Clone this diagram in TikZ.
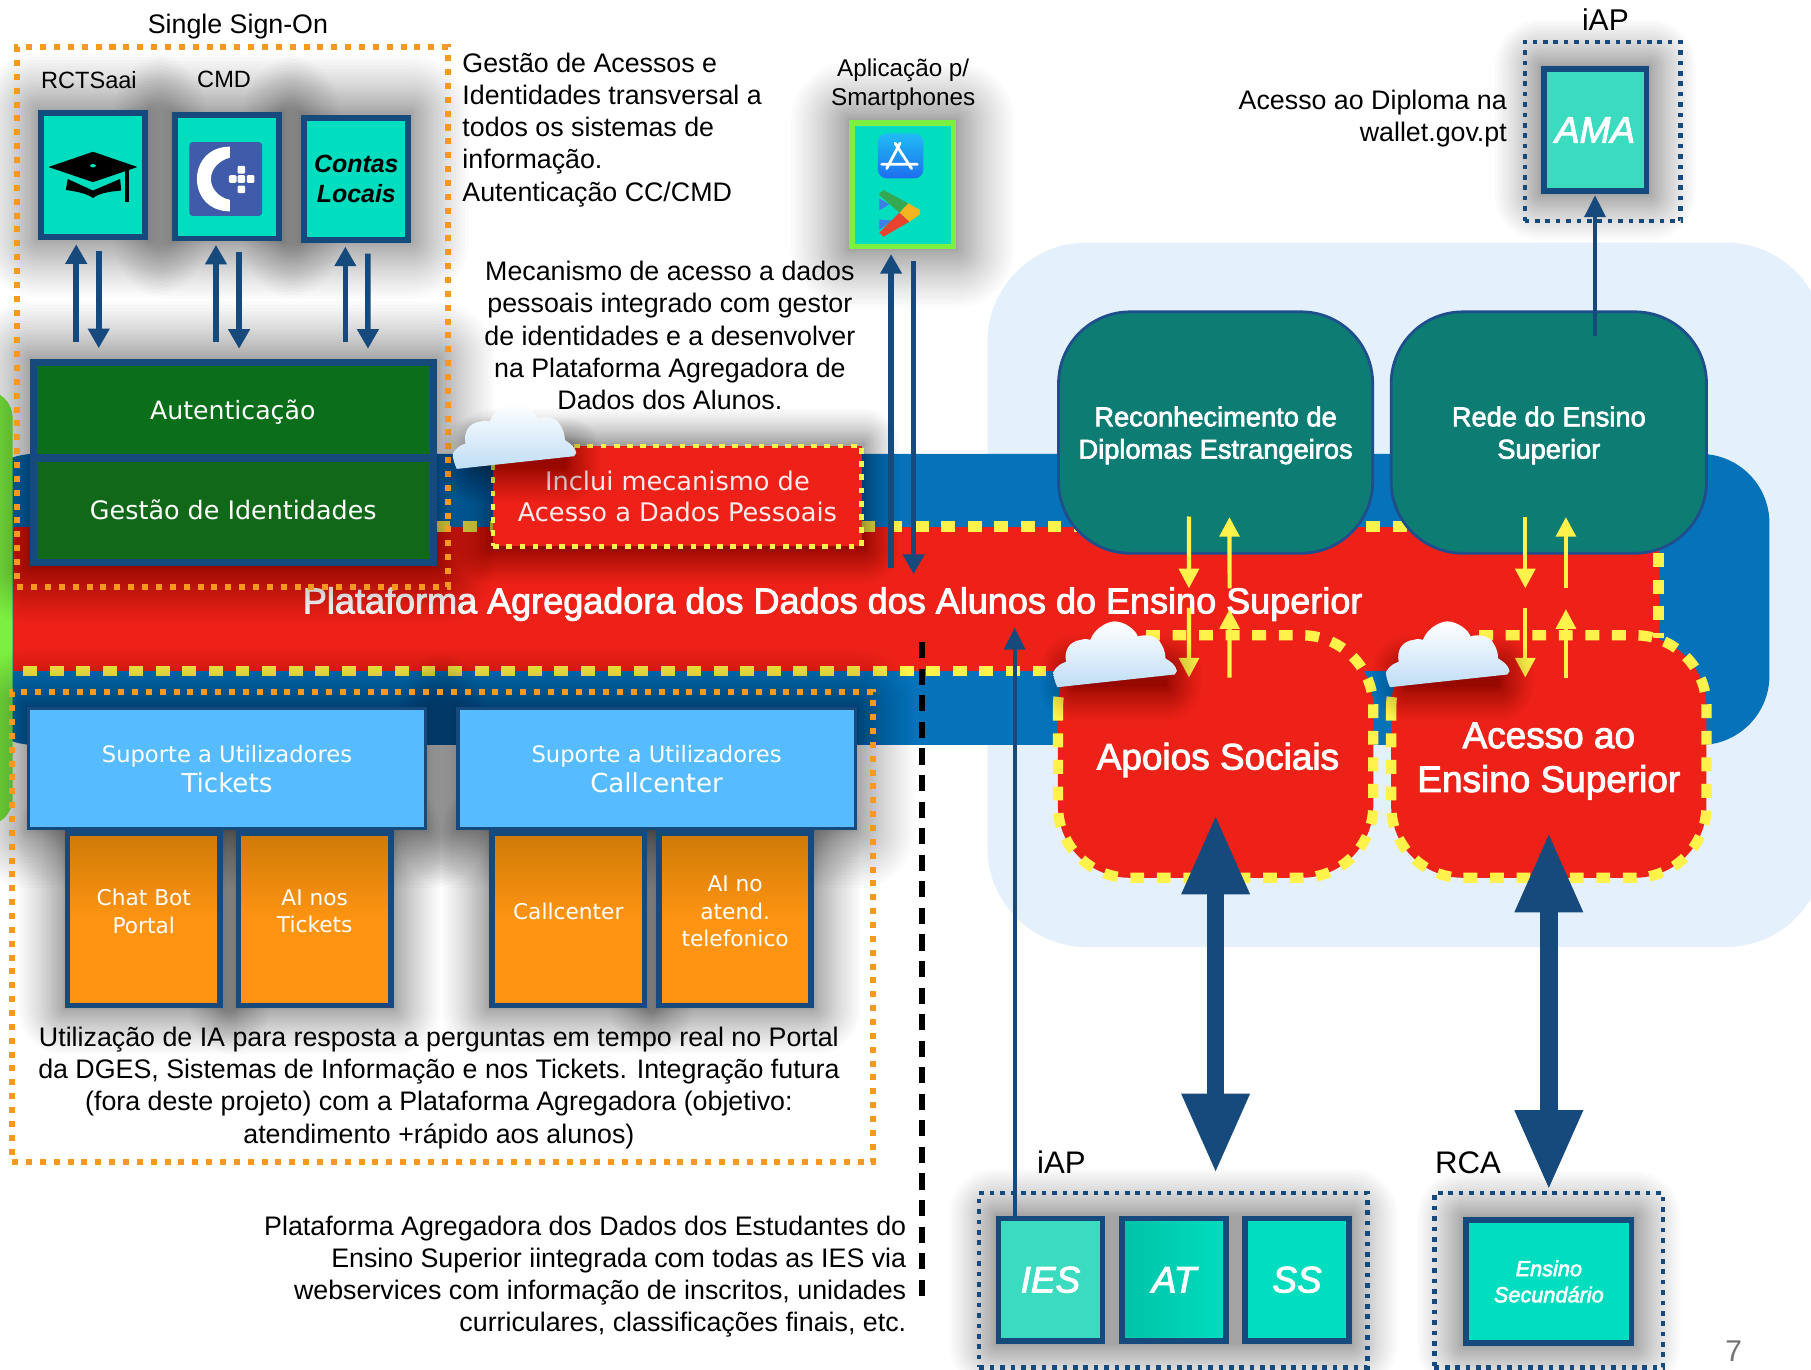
\documentclass[tikz,border=0pt]{standalone}
\usepackage{fontspec}
\usetikzlibrary{arrows.meta,shadings}
\setmainfont{Liberation Sans}
\newfontfamily\lucida{DejaVu Sans}
\newfontfamily\medf[FakeBold=2.5]{Liberation Sans}
\definecolor{navy}{HTML}{174A7C}
\definecolor{tealf}{HTML}{00DDBF}
\definecolor{iesf}{HTML}{3ADBBF}
\definecolor{paleb}{HTML}{E4F0FC}
\definecolor{bandb}{HTML}{0672BA}
\definecolor{redf}{HTML}{EE2118}
\definecolor{yel}{HTML}{FFF24A}
\definecolor{orng}{HTML}{F9981E}
\definecolor{orf}{HTML}{FF9412}
\definecolor{ordk}{HTML}{CF7A08}
\definecolor{skyf}{HTML}{56BCFF}
\definecolor{grn}{HTML}{0B6E1A}
\definecolor{grn2}{HTML}{116819}
\definecolor{lime}{HTML}{7CF040}
\definecolor{deep}{HTML}{0D7C72}
\definecolor{deepb}{HTML}{1F4E8C}
\definecolor{cmdb}{HTML}{3F5BA9}
\definecolor{cloudb}{HTML}{BFDDF5}
\definecolor{appt}{HTML}{20BCF5}
\definecolor{appb}{HTML}{1E6EF0}
\definecolor{pgreen}{HTML}{34A853}
\definecolor{pyellow}{HTML}{F4B51E}
\definecolor{pred}{HTML}{E8432E}
\definecolor{pblue}{HTML}{3E7CE8}
\newcommand{\softshadow}[5][4]{%
  \foreach \k in {1,...,25}{%
    \pgfmathsetmacro{\ss}{#1*10*(\k/25)^1.5}%
    \pgfmathsetmacro{\rr}{\ss*0.5}%
    \fill[black,opacity=.014,rounded corners=\rr pt] ({#2-\ss},{#3-\ss}) rectangle ({#4+\ss},{#5+\ss});
  }}
\newcommand{\cloudat}[2]{%
  \softshadow[3]{#1+18}{#2+42}{#1+98}{#2+56}
  \begin{scope}[shift={(#1,#2)}]
  \path[top color=white,bottom color=cloudb]
    (3.5,57) .. controls (1,52) and (0,47) .. (0,44) .. controls (3,38) and (8,36) .. (11,35)
    .. controls (9,25) and (14,17) .. (24,16) .. controls (27,15) and (30,15) .. (32,16)
    .. controls (36,5) and (48,0) .. (53,0) .. controls (62,0) and (72,8) .. (73,13)
    .. controls (80,11) and (90,12) .. (93,19) .. controls (97,25) and (97,30) .. (97,32)
    .. controls (102,35) and (106,38) .. (107,43) -- (105,46) -- cycle;
  \end{scope}}
\tikzset{
  sz/.style 2 args={minimum width=#1*0.5pt,minimum height=#2*0.5pt},
  txt/.style={inner sep=0pt,align=center,text=black,font=\fontsize{11.6}{13.9}\selectfont},
  small/.style={inner sep=0pt,align=center,text=black,font=\fontsize{10.2}{12.5}\selectfont},
  tealbox/.style={draw=navy,line width=2.5pt,fill=tealf,inner sep=0pt},
  greenbox/.style={draw=navy,line width=3pt,fill=grn,inner sep=0pt},
  greentext/.style={inner sep=0pt,text=white,font=\lucida\fontsize{10.9}{12}\selectfont},
  deepbox/.style={draw=deepb,line width=1.2pt,fill=deep,inner sep=0pt,rounded corners=31pt},
  deeptext/.style={inner sep=0pt,align=center,text=white,font=\medf\fontsize{11.8}{14}\selectfont},
  redshape/.style={fill=redf,inner sep=0pt,rounded corners=31pt},
  redtext/.style={inner sep=0pt,align=center,text=white,font=\medf\fontsize{16}{19}\selectfont},
  ydash/.style={draw=yel,line width=4.5pt,dash pattern=on 6pt off 5.5pt},
  ordash/.style={draw=orng,line width=2.6pt,dash pattern=on 2.6pt off 3.4pt},
  navydash/.style={draw=navy,line width=1.75pt,dash pattern=on 2pt off 2.5pt},
  skybox/.style={draw=navy,line width=1.5pt,fill=skyf,inner sep=0pt,align=center,text=white},
  orbox/.style={draw=navy,line width=2.5pt,top color=ordk,bottom color=orf,middle color=orf,inner sep=0pt},
  ortext/.style={inner sep=0pt,align=center,text=white,font=\lucida\fontsize{9.4}{12}\selectfont},
  navyarrow/.style={draw=navy,line width=2.4pt,-{Triangle[length=8.5pt,width=9pt]}},
  thinarrow/.style={draw=navy,line width=1.8pt,-{Triangle[length=9.5pt,width=9pt]}},
  yelarrow/.style={draw=yel,line width=1.8pt,-{Triangle[length=8.5pt,width=8.5pt]}},
  bigarrow/.style={draw=navy,line width=7.5pt,{Triangle[length=34.5pt,width=27.5pt]}-{Triangle[length=34.5pt,width=27.5pt]}},
  labelit/.style={inner sep=0pt,text=white,font=\medf\itshape\fontsize{16}{18}\selectfont},
}
\begin{document}
\begin{tikzpicture}[x=0.5pt,y=-0.5pt]
\clip (0,0) rectangle (1568,1186);
\fill[white] (0,0) rectangle (1568,1186);
% background panels
\node[fill=paleb,inner sep=0pt,rounded corners=43pt,sz={725}{610}] (panel) at (1217.5,515) {};
\node[fill=bandb,inner sep=0pt,rounded corners=30pt,sz={1562}{252}] (blueband) at (751,519) {};
\node[fill=lime,inner sep=0pt,rounded corners=12pt,sz={50}{377}] (blob) at (-14,526.5) {};
% red band
\node[fill=redf,inner sep=0pt,sz={1425}{125}] (band) at (723.5,518.5) {};
\draw[ydash] (378,456) -- (1436,456) -- (1436,552);
\draw[ydash] (20,581) -- (925,581);
\node[inner sep=0pt,text=white,font=\medf\fontsize{15.6}{18}\selectfont] (bandtitle) at (721,523) {Plataforma Agregadora dos Dados dos Alunos do Ensino Superior};
% SSO
\softshadow[5]{33}{96}{128}{207}
\softshadow[5]{149}{97}{244}{209}
\softshadow[5]{261}{98}{356}{209}
\softshadow[5]{26}{311}{378}{490}
\softshadow[5]{735}{104}{828}{216}
\node[txt,font=\fontsize{11.6}{14}\selectfont] (ssolabel) at (206,23) {Single Sign-On};
\node[small] (rctslabel) at (77,69) {RCTSaai};
\node[small] (cmdlabel) at (194,69) {CMD};
\node[tealbox,sz={90}{107}] (rcts) at (80.5,151.5) {};
\node[tealbox,sz={90}{107}] (cmd) at (196.5,153) {};
\node[tealbox,sz={90}{106},align=center,text=black,font=\bfseries\itshape\fontsize{10.8}{13}\selectfont] (contas) at (308.5,155) {Contas\\Locais};
% graduation cap
\fill[black] (58.6,155) -- (80.5,165) -- (104,155) -- (105,165) .. controls (92,166) and (85,168) .. (80.5,171.5) .. controls (76,168) and (68,166) .. (57,164.5) -- cycle;
\fill[black] (42,144.6) -- (80.5,131.4) -- (119,144.6) -- (80.5,157.7) -- cycle;
\fill[tealf] (80.5,143.5) ellipse (2.5 and 1.5);
\draw[black,line width=1.6pt] (110,147) -- (110,175);
% CMD icon
\fill[cmdb,rounded corners=1.5pt] (164,123) rectangle (227,187);
\fill[white] (199,127) .. controls (181,127) and (170.5,140) .. (170.5,155) .. controls (170.5,170) and (181,183) .. (199,183) -- (199,173) .. controls (189,171) and (182.6,163) .. (182.6,155) .. controls (182.6,147) and (189,139) .. (199,136.5) -- cycle;
\foreach \px/\py in {209/147,201.5/155,209/155,217/155,209/164}{\fill[white,rounded corners=0.5pt] ({\px-3.3},{\py-3.3}) rectangle ({\px+3.3},{\py+3.3});}
% authentication
\node[greenbox,sz={346}{82}] (auth) at (202,355) {};
\node[greentext] (autht) at (201.5,357) {Autenticação};
\node[greenbox,fill=grn2,sz={346}{90}] (gest) at (202,442) {};
\node[greentext,font=\lucida\fontsize{11}{12}\selectfont] (gestt) at (202,441) {Gestão de Identidades};
\draw[navyarrow] ([shift={(-136,-15)}]auth.north) -- ([shift={(-14.5,4)}]rcts.south);
\draw[navyarrow] ([shift={(5,10)}]rcts.south) -- ([shift={(-116.5,-9.5)}]auth.north);
\draw[navyarrow] ([shift={(-15,-15)}]auth.north) -- ([shift={(-9.5,3)}]cmd.south);
\draw[navyarrow] ([shift={(10.5,9)}]cmd.south) -- ([shift={(5,-9)}]auth.north);
\draw[navyarrow] ([shift={(97,-15)}]auth.north) -- ([shift={(-9.5,3)}]contas.south);
\draw[navyarrow] ([shift={(10,9)}]contas.south) -- ([shift={(116.6,-9)}]auth.north);
\node[ordash,inner sep=0pt,sz={373}{467}] (sso) at (201.5,274.5) {};
% texts top
\node[txt,anchor=west,align=left] (gestxt) at (400,112.5) {Gestão de Acessos e\\Identidades transversal a\\todos os sistemas de\\informação.\\Autenticação CC/CMD};
\node[txt] (mectxt) at (580,290.5) {Mecanismo de acesso a dados\\pessoais integrado com gestor\\de identidades e a desenvolver\\na Plataforma Agregadora de\\Dados dos Alunos.};
\node[small,font=\fontsize{10.5}{12.5}\selectfont] (applabel) at (782,73.5) {Aplicação p/\\Smartphones};
% inclui
\softshadow[3]{425}{384}{748}{475}
\node[fill=redf,inner sep=0pt,sz={319}{87},draw=yel,line width=2pt,dash pattern=on 2.5pt off 3.2pt,align=center,text=white!92!red,font=\lucida\fontsize{11.1}{13.5}\selectfont] (inclui) at (586.5,429.5) {Inclui mecanismo de\\Acesso a Dados Pessoais};
% smartphone box
\node[draw=lime,line width=2.5pt,fill=tealf,inner sep=0pt,sz={88}{107}] (app) at (781.5,160) {};
\shade[top color=appt,bottom color=appb,rounded corners=4pt] (760,115.5) rectangle (799.5,154.5);
\draw[white,line width=1.2pt,line cap=round] (767.7,146) -- (779.3,124) (775,124) -- (789.3,146) (763.4,142.3) -- (794.3,142.3);
\fill[pblue] (761.4,172) -- (761.4,182) -- (770,177) -- cycle (761.4,190) -- (761.4,199) -- (772,191) -- cycle;
\fill[pgreen] (761.4,167.4) -- (764.8,164.5) -- (786.5,176) -- (778.7,184.2) -- (761.4,169) -- cycle;
\fill[pyellow] (786.5,176) -- (796.6,181.9) -- (796.6,185.6) -- (787.3,192) -- (778.7,184.2) -- cycle;
\fill[pred] (778.7,184.2) -- (787.3,192) -- (764.8,205) -- (761.4,201.2) -- cycle;
\draw[navyarrow] ([shift={(48,36)}]band.north) -- ([shift={(-10,4)}]app.south);
\draw[navyarrow] ([shift={(9.5,10)}]app.south) -- ([shift={(67.5,41.5)}]band.north);
% teal panels
\node[deepbox,sz={272}{209}] (recon) at (1052.5,374.5) {};
\node[deeptext] (recont) at (1052.5,377) {Reconhecimento de\\Diplomas Estrangeiros};
\node[deepbox,sz={273}{209}] (rede) at (1341,374.5) {};
\node[deeptext] (redet) at (1341,377) {Rede do Ensino\\Superior};
% red shapes
\node[redshape,sz={273}{210}] (apoios) at (1052.5,655) {};
\draw[ydash,rounded corners=31pt] (916,550) rectangle (1189,760);
\node[redtext] (apoiost) at (1054.5,658) {Apoios Sociais};
\node[redshape,sz={273}{210}] (acesso) at (1341,655) {};
\draw[ydash,rounded corners=31pt] (1204.5,550) rectangle (1477.5,760);
\node[redtext] (acessot) at (1341,659) {Acesso ao\\Ensino Superior};
% support
\softshadow[5]{23}{612}{370}{719}
\softshadow[5]{395}{612}{742}{719}
\softshadow[4]{56}{719}{193}{873}
\softshadow[4]{204}{719}{341}{873}
\softshadow[4]{423}{719}{560}{873}
\softshadow[4]{568}{719}{705}{873}
\node[orbox,sz={132}{149}] (chat) at (124.5,796) {};
\node[ortext] (chatt) at (124.5,789) {Chat Bot\\Portal};
\node[orbox,sz={132}{149}] (ai1) at (272.5,796) {};
\node[ortext] (ai1t) at (272.5,789) {AI nos\\Tickets};
\node[orbox,sz={132}{149}] (call) at (492,796) {};
\node[ortext] (callt) at (492,789) {Callcenter};
\node[orbox,sz={132}{149}] (ai2) at (636.5,796) {};
\node[ortext] (ai2t) at (636.5,789) {AI no\\atend.\\telefonico};
\node[skybox,sz={344}{104}] (tick) at (196.5,665.5) {{\lucida\fontsize{9.8}{12}\selectfont Suporte a Utilizadores}\\[1pt]{\lucida\fontsize{11.3}{12}\selectfont Tickets}};
\node[skybox,sz={344}{104}] (callb) at (568.5,665.5) {{\lucida\fontsize{9.8}{12}\selectfont Suporte a Utilizadores}\\[1pt]{\lucida\fontsize{11.3}{12}\selectfont Callcenter}};
\node[ordash,inner sep=0pt,sz={745}{407}] (sup) at (383,803) {};
\node[txt] (iatxt) at (380,942) {Utilização de IA para resposta a perguntas em tempo real no Portal\\da DGES, Sistemas de Informação e nos Tickets. Integração futura\\(fora deste projeto) com a Plataforma Agregadora (objetivo:\\atendimento +rápido aos alunos)};
\node[txt,anchor=east,align=right] (plattxt) at (785,1105.5) {Plataforma Agregadora dos Dados dos Estudantes do\\Ensino Superior iintegrada com todas as IES via\\webservices com informação de inscritos, unidades\\curriculares, classificações finais, etc.};
\draw[black,line width=2.5pt,dash pattern=on 7pt off 4.5pt] (798.5,556) -- (798.5,1122);
% AMA
\softshadow[4]{1334}{57}{1428}{168}
\node[txt,font=\fontsize{13}{15}\selectfont] (iaptop) at (1390,17) {iAP};
\node[navydash,inner sep=0pt,sz={135}{155}] (iapa) at (1387.5,114) {};
\node[tealbox,fill=iesf,sz={89}{106},labelit] (ama) at (1381,112.5) {AMA};
\node[txt,anchor=east,align=right] (walltxt) at (1305,102.5) {Acesso ao Diploma na\\wallet.gov.pt};
\draw[thinarrow] ([shift={(40,22)}]rede.north) -- ([shift={(0,1)}]ama.south);
% bottom groups
\softshadow[4]{862}{1052}{1170}{1164}
\softshadow[4]{1267}{1054}{1415}{1165}
\node[txt,font=\fontsize{13.5}{15}\selectfont] (iapb) at (919,1006) {iAP};
\node[txt,font=\fontsize{13.5}{15}\selectfont] (rcal) at (1271,1007) {RCA};
\node[navydash,inner sep=0pt,sz={336}{151}] (iapg) at (1016,1108.5) {};
\node[navydash,inner sep=0pt,sz={198}{151}] (rcag) at (1341,1108.5) {};
\node[tealbox,fill=iesf,sz={90}{106},labelit] (ies) at (909.5,1108) {IES};
\node[tealbox,left color=tealf!88!black,right color=tealf,sz={90}{106},labelit] (atb) at (1016.5,1108) {AT};
\node[tealbox,sz={90}{106},labelit] (ssb) at (1123,1108) {SS};
\node[tealbox,sz={143}{106},align=center,text=white,font=\medf\itshape\fontsize{9.4}{11.3}\selectfont] (ens) at (1341,1109.5) {Ensino\\Secundário};
\node[inner sep=0pt,text=black!55,font=\fontsize{13}{15}\selectfont] (pagen) at (1501,1170) {7};
% connectors
\draw[thinarrow] ([shift={(-31,0)}]ies.north) -- ([shift={(155,-38)}]band.south);
\draw[bigarrow] ([shift={(0,-55)}]apoios.south) -- ([shift={(36.5,-15.4)}]iapg.north);
\draw[bigarrow] ([shift={(0,-39.5)}]acesso.south) -- ([shift={(0,-1)}]rcag.north);
\draw[yelarrow] ([shift={(-23,-33)}]recon.south) -- ([shift={(305.9,-72)}]band.south);
\draw[yelarrow] ([shift={(341.1,-72)}]band.south) -- ([shift={(12,-32.5)}]recon.south);
\draw[yelarrow] ([shift={(-20.4,-33)}]rede.south) -- ([shift={(597.1,-72)}]band.south);
\draw[yelarrow] ([shift={(632.3,-72)}]band.south) -- ([shift={(14.8,-32.5)}]rede.south);
\draw[yelarrow] ([shift={(305.9,-55)}]band.south) -- ([shift={(-23,37)}]apoios.north);
\draw[yelarrow] ([shift={(12,37)}]apoios.north) -- ([shift={(341.1,-54)}]band.south);
\draw[yelarrow] ([shift={(597.1,-55)}]band.south) -- ([shift={(-20.4,37)}]acesso.north);
\draw[yelarrow] ([shift={(14.8,37)}]acesso.north) -- ([shift={(632.3,-54)}]band.south);
% clouds
\cloudat{392}{349}
\cloudat{912}{538}
\cloudat{1200}{538}
\end{tikzpicture}
\end{document}
